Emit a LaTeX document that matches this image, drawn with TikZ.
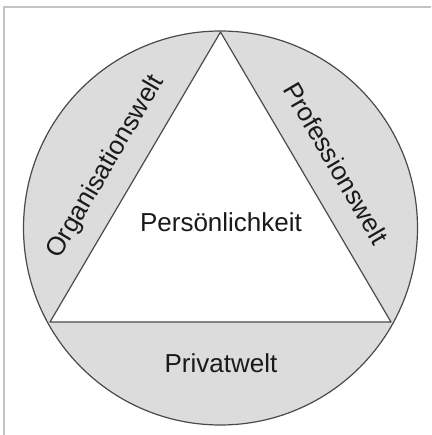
\documentclass[tikz,border=0pt]{standalone}
\usepackage{fontspec}
\setmainfont{Liberation Sans}
\definecolor{segfill}{HTML}{DCDCDC}
\definecolor{edge}{HTML}{4A4A4A}
\definecolor{frame}{HTML}{C4C4C4}
\definecolor{ink}{HTML}{1A1A1A}
\begin{document}
\begin{tikzpicture}[x=1pt,y=-1pt,
  outline/.style={draw=edge,line width=1.2pt,line join=round},
  label/.style={font=\fontsize{26}{31}\selectfont,text=ink,inner sep=0pt}]
\useasboundingbox (0,0) rectangle (431,435);
\draw[frame,line width=1.5pt] (4,435) -- (4,7) -- (431,7);
\coordinate (c) at (220.5,228);
\coordinate (top) at (220.5,32);
\coordinate (bl) at (50,322);
\coordinate (br) at (391,322);
\draw[outline,fill=segfill] (c) circle[radius=197];
\draw[outline,fill=white] (top) -- (bl) -- (br) -- cycle;
\node[label] (pers) at (221,222) {Persönlichkeit};
\node[label] (priv) at (221,363) {Privatwelt};
\node[label,rotate=59.7] (org) at (106,167) {Organisationswelt};
\node[label,rotate=-59.7] (prof) at (336,163) {Professionswelt};
\end{tikzpicture}
\end{document}
